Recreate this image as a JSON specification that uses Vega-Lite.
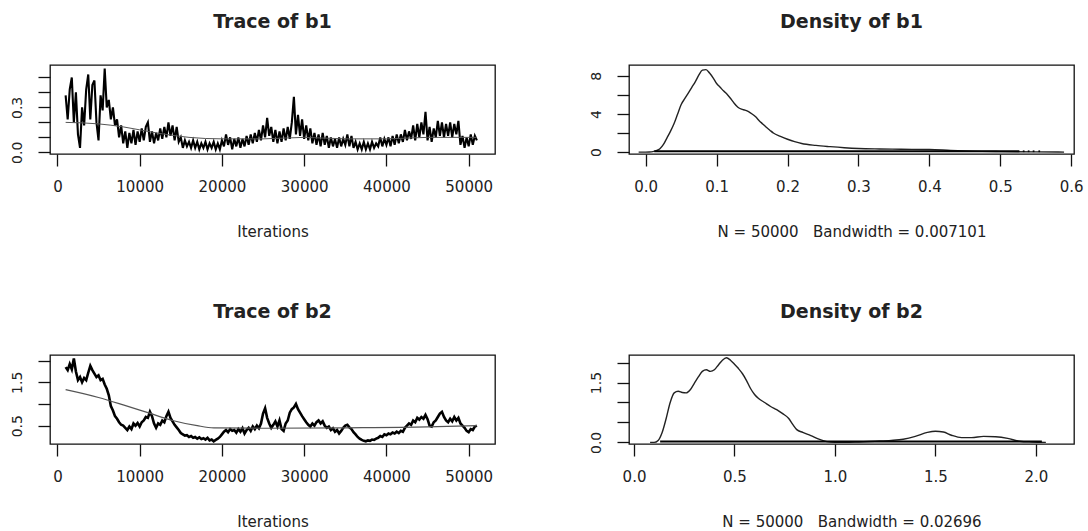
{
"$schema": "https://vega.github.io/schema/vega-lite/v6.json",
"background": "white",
"padding": {"left": 9, "top": 12, "right": 5, "bottom": 2},
"bounds": "flush",
"spacing": 290,
"config": {
 "view": {"stroke": "#111", "strokeWidth": 1.3},
 "axis": {"domain": false, "grid": false, "tickSize": 12, "tickColor": "#111", "tickWidth": 1.3, "labelFont": "DejaVu Sans", "labelColor": "#222", "titleFont": "DejaVu Sans", "titleColor": "#222", "titleFontWeight": "normal", "labelOverlap": false, "labelFlush": false},
 "axisX": {"labelFontSize": 15, "labelPadding": 13, "titleFontSize": 15, "titlePadding": 30},
 "axisY": {"labelFontSize": 14, "labelAngle": 270, "labelAlign": "center", "labelBaseline": "bottom", "labelPadding": 14},
 "title": {"font": "DejaVu Sans", "fontSize": 19, "fontWeight": "bold", "color": "#222", "anchor": "middle", "baseline": "bottom", "offset": 33}
},
"datasets": {
 "trace1": [
{"iter":1000,"value":0.38},{"iter":1250,"value":0.22},{"iter":1500,"value":0.42},{"iter":1750,"value":0.50},{"iter":2000,"value":0.20},{"iter":2250,"value":0.40},{"iter":2500,"value":0.12},{"iter":2750,"value":0.03},{"iter":3000,"value":0.30},{"iter":3250,"value":0.18},{"iter":3500,"value":0.42},{"iter":3750,"value":0.52},{"iter":4000,"value":0.22},{"iter":4250,"value":0.45},{"iter":4500,"value":0.48},{"iter":4750,"value":0.20},{"iter":5000,"value":0.08},{"iter":5250,"value":0.38},{"iter":5500,"value":0.28},{"iter":5750,"value":0.56},{"iter":6000,"value":0.30},{"iter":6250,"value":0.35},{"iter":6500,"value":0.22},{"iter":6750,"value":0.30},{"iter":7000,"value":0.18},{"iter":7250,"value":0.22},{"iter":7500,"value":0.10},{"iter":7750,"value":0.18},{"iter":8000,"value":0.06},{"iter":8250,"value":0.14},{"iter":8500,"value":0.03},{"iter":8750,"value":0.13},{"iter":9000,"value":0.06},{"iter":9250,"value":0.15},{"iter":9500,"value":0.05},{"iter":9750,"value":0.14},{"iter":10000,"value":0.07},{"iter":10250,"value":0.16},{"iter":10500,"value":0.08},{"iter":10750,"value":0.17},{"iter":11000,"value":0.20},{"iter":11250,"value":0.07},{"iter":11500,"value":0.14},{"iter":11750,"value":0.06},{"iter":12000,"value":0.13},{"iter":12250,"value":0.08},{"iter":12500,"value":0.16},{"iter":12750,"value":0.09},{"iter":13000,"value":0.17},{"iter":13250,"value":0.10},{"iter":13500,"value":0.20},{"iter":13750,"value":0.11},{"iter":14000,"value":0.18},{"iter":14250,"value":0.08},{"iter":14500,"value":0.17},{"iter":14750,"value":0.07},{"iter":15000,"value":0.10},{"iter":15250,"value":0.03},{"iter":15500,"value":0.08},{"iter":15750,"value":0.04},{"iter":16000,"value":0.07},{"iter":16250,"value":0.03},{"iter":16500,"value":0.08},{"iter":16750,"value":0.03},{"iter":17000,"value":0.07},{"iter":17250,"value":0.02},{"iter":17500,"value":0.06},{"iter":17750,"value":0.03},{"iter":18000,"value":0.07},{"iter":18250,"value":0.02},{"iter":18500,"value":0.06},{"iter":18750,"value":0.03},{"iter":19000,"value":0.07},{"iter":19250,"value":0.02},{"iter":19500,"value":0.06},{"iter":19750,"value":0.02},{"iter":20000,"value":0.08},{"iter":20250,"value":0.04},{"iter":20500,"value":0.12},{"iter":20750,"value":0.05},{"iter":21000,"value":0.10},{"iter":21250,"value":0.02},{"iter":21500,"value":0.09},{"iter":21750,"value":0.04},{"iter":22000,"value":0.10},{"iter":22250,"value":0.03},{"iter":22500,"value":0.09},{"iter":22750,"value":0.04},{"iter":23000,"value":0.11},{"iter":23250,"value":0.05},{"iter":23500,"value":0.12},{"iter":23750,"value":0.06},{"iter":24000,"value":0.13},{"iter":24250,"value":0.07},{"iter":24500,"value":0.15},{"iter":24750,"value":0.08},{"iter":25000,"value":0.18},{"iter":25250,"value":0.10},{"iter":25500,"value":0.23},{"iter":25750,"value":0.11},{"iter":26000,"value":0.17},{"iter":26250,"value":0.07},{"iter":26500,"value":0.15},{"iter":26750,"value":0.06},{"iter":27000,"value":0.14},{"iter":27250,"value":0.07},{"iter":27500,"value":0.16},{"iter":27750,"value":0.08},{"iter":28000,"value":0.17},{"iter":28250,"value":0.09},{"iter":28500,"value":0.20},{"iter":28750,"value":0.37},{"iter":29000,"value":0.12},{"iter":29250,"value":0.25},{"iter":29500,"value":0.11},{"iter":29750,"value":0.22},{"iter":30000,"value":0.09},{"iter":30250,"value":0.18},{"iter":30500,"value":0.08},{"iter":30750,"value":0.16},{"iter":31000,"value":0.06},{"iter":31250,"value":0.13},{"iter":31500,"value":0.05},{"iter":31750,"value":0.12},{"iter":32000,"value":0.04},{"iter":32250,"value":0.13},{"iter":32500,"value":0.05},{"iter":32750,"value":0.11},{"iter":33000,"value":0.03},{"iter":33250,"value":0.10},{"iter":33500,"value":0.04},{"iter":33750,"value":0.09},{"iter":34000,"value":0.03},{"iter":34250,"value":0.10},{"iter":34500,"value":0.04},{"iter":34750,"value":0.09},{"iter":35000,"value":0.05},{"iter":35250,"value":0.12},{"iter":35500,"value":0.04},{"iter":35750,"value":0.11},{"iter":36000,"value":0.03},{"iter":36250,"value":0.07},{"iter":36500,"value":0.02},{"iter":36750,"value":0.06},{"iter":37000,"value":0.02},{"iter":37250,"value":0.07},{"iter":37500,"value":0.02},{"iter":37750,"value":0.06},{"iter":38000,"value":0.02},{"iter":38250,"value":0.07},{"iter":38500,"value":0.03},{"iter":38750,"value":0.06},{"iter":39000,"value":0.04},{"iter":39250,"value":0.10},{"iter":39500,"value":0.04},{"iter":39750,"value":0.09},{"iter":40000,"value":0.05},{"iter":40250,"value":0.10},{"iter":40500,"value":0.04},{"iter":40750,"value":0.11},{"iter":41000,"value":0.05},{"iter":41250,"value":0.12},{"iter":41500,"value":0.06},{"iter":41750,"value":0.12},{"iter":42000,"value":0.07},{"iter":42250,"value":0.15},{"iter":42500,"value":0.08},{"iter":42750,"value":0.14},{"iter":43000,"value":0.09},{"iter":43250,"value":0.18},{"iter":43500,"value":0.08},{"iter":43750,"value":0.19},{"iter":44000,"value":0.10},{"iter":44250,"value":0.20},{"iter":44500,"value":0.12},{"iter":44750,"value":0.27},{"iter":45000,"value":0.08},{"iter":45250,"value":0.17},{"iter":45500,"value":0.07},{"iter":45750,"value":0.16},{"iter":46000,"value":0.10},{"iter":46250,"value":0.21},{"iter":46500,"value":0.11},{"iter":46750,"value":0.20},{"iter":47000,"value":0.10},{"iter":47250,"value":0.19},{"iter":47500,"value":0.11},{"iter":47750,"value":0.20},{"iter":48000,"value":0.10},{"iter":48250,"value":0.19},{"iter":48500,"value":0.12},{"iter":48750,"value":0.21},{"iter":49000,"value":0.05},{"iter":49250,"value":0.11},{"iter":49500,"value":0.03},{"iter":49750,"value":0.10},{"iter":50000,"value":0.04},{"iter":50250,"value":0.12},{"iter":50500,"value":0.05},{"iter":50750,"value":0.11},{"iter":51000,"value":0.08}
 ],
 "smooth1": [
{"iter":1000,"value":0.2},{"iter":5000,"value":0.19},{"iter":8000,"value":0.17},{"iter":12000,"value":0.13},{"iter":16000,"value":0.1},{"iter":20000,"value":0.09},{"iter":25000,"value":0.09},{"iter":30000,"value":0.1},{"iter":35000,"value":0.09},{"iter":40000,"value":0.09},{"iter":45000,"value":0.1},{"iter":51000,"value":0.1}
 ],
 "trace2": [
{"iter":1000,"value":1.85},{"iter":1250,"value":1.78},{"iter":1500,"value":1.92},{"iter":1750,"value":1.80},{"iter":2000,"value":2.05},{"iter":2250,"value":1.75},{"iter":2500,"value":1.55},{"iter":2750,"value":1.62},{"iter":3000,"value":1.50},{"iter":3250,"value":1.60},{"iter":3500,"value":1.55},{"iter":3750,"value":1.72},{"iter":4000,"value":1.88},{"iter":4250,"value":1.78},{"iter":4500,"value":1.70},{"iter":4750,"value":1.62},{"iter":5000,"value":1.66},{"iter":5250,"value":1.55},{"iter":5500,"value":1.58},{"iter":5750,"value":1.45},{"iter":6000,"value":1.35},{"iter":6250,"value":1.20},{"iter":6500,"value":0.95},{"iter":6750,"value":0.85},{"iter":7000,"value":0.72},{"iter":7250,"value":0.66},{"iter":7500,"value":0.58},{"iter":7750,"value":0.52},{"iter":8000,"value":0.50},{"iter":8250,"value":0.45},{"iter":8500,"value":0.40},{"iter":8750,"value":0.48},{"iter":9000,"value":0.42},{"iter":9250,"value":0.55},{"iter":9500,"value":0.50},{"iter":9750,"value":0.56},{"iter":10000,"value":0.48},{"iter":10250,"value":0.58},{"iter":10500,"value":0.62},{"iter":10750,"value":0.70},{"iter":11000,"value":0.68},{"iter":11250,"value":0.82},{"iter":11500,"value":0.72},{"iter":11750,"value":0.55},{"iter":12000,"value":0.45},{"iter":12250,"value":0.55},{"iter":12500,"value":0.52},{"iter":12750,"value":0.62},{"iter":13000,"value":0.58},{"iter":13250,"value":0.72},{"iter":13500,"value":0.82},{"iter":13750,"value":0.68},{"iter":14000,"value":0.60},{"iter":14250,"value":0.52},{"iter":14500,"value":0.46},{"iter":14750,"value":0.40},{"iter":15000,"value":0.33},{"iter":15250,"value":0.30},{"iter":15500,"value":0.27},{"iter":15750,"value":0.28},{"iter":16000,"value":0.24},{"iter":16250,"value":0.26},{"iter":16500,"value":0.22},{"iter":16750,"value":0.24},{"iter":17000,"value":0.20},{"iter":17250,"value":0.23},{"iter":17500,"value":0.19},{"iter":17750,"value":0.21},{"iter":18000,"value":0.18},{"iter":18250,"value":0.22},{"iter":18500,"value":0.16},{"iter":18750,"value":0.18},{"iter":19000,"value":0.14},{"iter":19250,"value":0.17},{"iter":19500,"value":0.20},{"iter":19750,"value":0.24},{"iter":20000,"value":0.30},{"iter":20250,"value":0.36},{"iter":20500,"value":0.40},{"iter":20750,"value":0.35},{"iter":21000,"value":0.42},{"iter":21250,"value":0.38},{"iter":21500,"value":0.40},{"iter":21750,"value":0.34},{"iter":22000,"value":0.42},{"iter":22250,"value":0.36},{"iter":22500,"value":0.44},{"iter":22750,"value":0.32},{"iter":23000,"value":0.40},{"iter":23250,"value":0.45},{"iter":23500,"value":0.38},{"iter":23750,"value":0.48},{"iter":24000,"value":0.42},{"iter":24250,"value":0.50},{"iter":24500,"value":0.44},{"iter":24750,"value":0.55},{"iter":25000,"value":0.78},{"iter":25250,"value":0.90},{"iter":25500,"value":0.68},{"iter":25750,"value":0.55},{"iter":26000,"value":0.45},{"iter":26250,"value":0.52},{"iter":26500,"value":0.60},{"iter":26750,"value":0.48},{"iter":27000,"value":0.62},{"iter":27250,"value":0.42},{"iter":27500,"value":0.38},{"iter":27750,"value":0.55},{"iter":28000,"value":0.62},{"iter":28250,"value":0.80},{"iter":28500,"value":0.88},{"iter":28750,"value":0.92},{"iter":29000,"value":1.00},{"iter":29250,"value":0.88},{"iter":29500,"value":0.80},{"iter":29750,"value":0.72},{"iter":30000,"value":0.65},{"iter":30250,"value":0.58},{"iter":30500,"value":0.52},{"iter":30750,"value":0.48},{"iter":31000,"value":0.55},{"iter":31250,"value":0.50},{"iter":31500,"value":0.58},{"iter":31750,"value":0.62},{"iter":32000,"value":0.55},{"iter":32250,"value":0.60},{"iter":32500,"value":0.50},{"iter":32750,"value":0.45},{"iter":33000,"value":0.48},{"iter":33250,"value":0.40},{"iter":33500,"value":0.44},{"iter":33750,"value":0.36},{"iter":34000,"value":0.40},{"iter":34250,"value":0.32},{"iter":34500,"value":0.38},{"iter":34750,"value":0.45},{"iter":35000,"value":0.50},{"iter":35250,"value":0.52},{"iter":35500,"value":0.46},{"iter":35750,"value":0.42},{"iter":36000,"value":0.35},{"iter":36250,"value":0.30},{"iter":36500,"value":0.24},{"iter":36750,"value":0.20},{"iter":37000,"value":0.17},{"iter":37250,"value":0.15},{"iter":37500,"value":0.14},{"iter":37750,"value":0.16},{"iter":38000,"value":0.15},{"iter":38250,"value":0.18},{"iter":38500,"value":0.17},{"iter":38750,"value":0.20},{"iter":39000,"value":0.22},{"iter":39250,"value":0.26},{"iter":39500,"value":0.24},{"iter":39750,"value":0.30},{"iter":40000,"value":0.28},{"iter":40250,"value":0.32},{"iter":40500,"value":0.30},{"iter":40750,"value":0.34},{"iter":41000,"value":0.32},{"iter":41250,"value":0.36},{"iter":41500,"value":0.33},{"iter":41750,"value":0.38},{"iter":42000,"value":0.36},{"iter":42250,"value":0.45},{"iter":42500,"value":0.50},{"iter":42750,"value":0.55},{"iter":43000,"value":0.52},{"iter":43250,"value":0.62},{"iter":43500,"value":0.58},{"iter":43750,"value":0.68},{"iter":44000,"value":0.64},{"iter":44250,"value":0.70},{"iter":44500,"value":0.66},{"iter":44750,"value":0.75},{"iter":45000,"value":0.65},{"iter":45250,"value":0.50},{"iter":45500,"value":0.48},{"iter":45750,"value":0.58},{"iter":46000,"value":0.62},{"iter":46250,"value":0.70},{"iter":46500,"value":0.78},{"iter":46750,"value":0.82},{"iter":47000,"value":0.70},{"iter":47250,"value":0.62},{"iter":47500,"value":0.58},{"iter":47750,"value":0.66},{"iter":48000,"value":0.60},{"iter":48250,"value":0.70},{"iter":48500,"value":0.62},{"iter":48750,"value":0.68},{"iter":49000,"value":0.55},{"iter":49250,"value":0.50},{"iter":49500,"value":0.45},{"iter":49750,"value":0.38},{"iter":50000,"value":0.35},{"iter":50250,"value":0.42},{"iter":50500,"value":0.40},{"iter":50750,"value":0.48},{"iter":51000,"value":0.50}
 ],
 "smooth2": [
{"iter":1000,"value":1.33},{"iter":5000,"value":1.15},{"iter":8000,"value":0.98},{"iter":11000,"value":0.8},{"iter":14000,"value":0.62},{"iter":17000,"value":0.5},{"iter":19000,"value":0.45},{"iter":25000,"value":0.44},{"iter":35000,"value":0.45},{"iter":45000,"value":0.47},{"iter":51000,"value":0.5}
 ],
 "dens1": [
{"x":-0.01,"density":0},{"x":0.0,"density":0.0},{"x":0.005,"density":0.01},{"x":0.01,"density":0.05},{"x":0.015,"density":0.15},{"x":0.02,"density":0.35},{"x":0.025,"density":0.8},{"x":0.03,"density":1.5},{"x":0.035,"density":2.2},{"x":0.04,"density":3.0},{"x":0.045,"density":4.0},{"x":0.05,"density":5.0},{"x":0.055,"density":5.6},{"x":0.06,"density":6.2},{"x":0.065,"density":6.8},{"x":0.07,"density":7.4},{"x":0.075,"density":8.1},{"x":0.08,"density":8.6},{"x":0.085,"density":8.65},{"x":0.09,"density":8.3},{"x":0.095,"density":7.8},{"x":0.1,"density":7.2},{"x":0.105,"density":6.8},{"x":0.11,"density":6.4},{"x":0.115,"density":6.05},{"x":0.12,"density":5.6},{"x":0.125,"density":5.1},{"x":0.13,"density":4.7},{"x":0.135,"density":4.5},{"x":0.14,"density":4.4},{"x":0.145,"density":4.25},{"x":0.15,"density":4.0},{"x":0.155,"density":3.7},{"x":0.16,"density":3.3},{"x":0.165,"density":2.95},{"x":0.17,"density":2.6},{"x":0.175,"density":2.3},{"x":0.18,"density":2.0},{"x":0.19,"density":1.65},{"x":0.2,"density":1.35},{"x":0.21,"density":1.1},{"x":0.22,"density":0.9},{"x":0.24,"density":0.7},{"x":0.26,"density":0.57},{"x":0.28,"density":0.46},{"x":0.3,"density":0.38},{"x":0.33,"density":0.33},{"x":0.36,"density":0.3},{"x":0.4,"density":0.27},{"x":0.43,"density":0.18},{"x":0.46,"density":0.1},{"x":0.5,"density":0.05},{"x":0.55,"density":0.02},{"x":0.59,"density":0.0}
 ],
 "rug1": [{"x":0.012,"density":0.087},{"x":0.527,"density":0.087}],
 "rug1dots": [{"x":0.533,"density":0.087},{"x":0.54,"density":0.087},{"x":0.547,"density":0.087},{"x":0.555,"density":0.087}],
 "dens2": [
{"x":0.08,"density":0},{"x":0.1,"density":0.0},{"x":0.12,"density":0.05},{"x":0.14,"density":0.25},{"x":0.16,"density":0.6},{"x":0.18,"density":1.0},{"x":0.2,"density":1.24},{"x":0.22,"density":1.28},{"x":0.24,"density":1.25},{"x":0.26,"density":1.24},{"x":0.28,"density":1.32},{"x":0.3,"density":1.48},{"x":0.32,"density":1.64},{"x":0.34,"density":1.78},{"x":0.36,"density":1.82},{"x":0.38,"density":1.78},{"x":0.4,"density":1.82},{"x":0.42,"density":1.94},{"x":0.44,"density":2.06},{"x":0.46,"density":2.12},{"x":0.48,"density":2.06},{"x":0.5,"density":1.96},{"x":0.52,"density":1.85},{"x":0.54,"density":1.72},{"x":0.56,"density":1.55},{"x":0.58,"density":1.35},{"x":0.6,"density":1.2},{"x":0.62,"density":1.1},{"x":0.65,"density":1.0},{"x":0.68,"density":0.9},{"x":0.71,"density":0.82},{"x":0.74,"density":0.72},{"x":0.77,"density":0.6},{"x":0.79,"density":0.45},{"x":0.81,"density":0.32},{"x":0.84,"density":0.25},{"x":0.88,"density":0.17},{"x":0.92,"density":0.08},{"x":0.96,"density":0.02},{"x":1.0,"density":0.0},{"x":1.1,"density":0.01},{"x":1.2,"density":0.03},{"x":1.28,"density":0.05},{"x":1.34,"density":0.08},{"x":1.4,"density":0.15},{"x":1.46,"density":0.25},{"x":1.5,"density":0.28},{"x":1.54,"density":0.26},{"x":1.58,"density":0.18},{"x":1.63,"density":0.12},{"x":1.68,"density":0.12},{"x":1.74,"density":0.15},{"x":1.8,"density":0.14},{"x":1.86,"density":0.1},{"x":1.92,"density":0.03},{"x":1.98,"density":0.01},{"x":2.05,"density":0.0}
 ],
 "rug2": [{"x":0.13,"density":0.021},{"x":2.03,"density":0.021}]
},
"vconcat": [
 {"bounds": "flush", "spacing": 134, "hconcat": [
  {"width": 445, "height": 89, "title": "Trace of b1",
   "layer": [
    {"data": {"name": "trace1"}, "mark": {"type": "line", "color": "#000", "strokeWidth": 2.1, "clip": true},
     "encoding": {
      "x": {"field": "iter", "type": "quantitative", "scale": {"domain": [-900, 53200], "nice": false, "zero": false},
            "axis": {"values": [0,10000,20000,30000,40000,50000], "tickCount": 20, "format": "d", "title": "Iterations", "labelOverlap": false}},
      "y": {"field": "value", "type": "quantitative", "scale": {"domain": [-0.011, 0.583], "nice": false, "zero": false},
            "axis": {"values": [0,0.1,0.2,0.3,0.4,0.5], "tickCount": 20, "title": null, "labelOverlap": false, "labelExpr": "abs(datum.value) < 0.001 ? '0.0' : (abs(datum.value - 0.3) < 0.001 ? '0.3' : '')"}}}},
    {"data": {"name": "smooth1"}, "mark": {"type": "line", "color": "#555", "strokeWidth": 1, "interpolate": "monotone", "clip": true},
     "encoding": {"x": {"field": "iter", "type": "quantitative"}, "y": {"field": "value", "type": "quantitative"}}}
   ]},
  {"width": 445, "height": 89, "title": "Density of b1",
   "layer": [
    {"data": {"name": "dens1"}, "mark": {"type": "line", "color": "#222", "strokeWidth": 1.4, "interpolate": "monotone", "clip": true},
     "encoding": {
      "x": {"field": "x", "type": "quantitative", "scale": {"domain": [-0.0236, 0.604], "nice": false, "zero": false},
            "axis": {"values": [0,0.1,0.2,0.3,0.4,0.5,0.6], "tickCount": 20, "format": ".1f", "labelOverlap": false, "title": "N = 50000\u00a0\u00a0\u00a0Bandwidth = 0.007101"}},
      "y": {"field": "density", "type": "quantitative", "scale": {"domain": [-0.2, 9.14], "nice": false, "zero": false},
            "axis": {"values": [0,2,4,6,8], "tickCount": 20, "title": null, "labelOverlap": false, "labelExpr": "datum.value == 0 ? '0' : (datum.value == 4 ? '4' : (datum.value == 8 ? '8' : ''))"}}}},
    {"mark": {"type": "rule", "color": "#bbb", "strokeWidth": 1}, "encoding": {"y": {"datum": 0}}},
    {"data": {"name": "rug1"}, "mark": {"type": "line", "color": "#000", "strokeWidth": 2, "clip": true},
     "encoding": {"x": {"field": "x", "type": "quantitative"}, "y": {"field": "density", "type": "quantitative"}}},
    {"data": {"name": "rug1dots"}, "mark": {"type": "square", "color": "#000", "size": 3, "opacity": 1},
     "encoding": {"x": {"field": "x", "type": "quantitative"}, "y": {"field": "density", "type": "quantitative"}}}
   ]}
 ]},
 {"bounds": "flush", "spacing": 134, "hconcat": [
  {"width": 445, "height": 89, "title": "Trace of b2",
   "layer": [
    {"data": {"name": "trace2"}, "mark": {"type": "line", "color": "#000", "strokeWidth": 2.6, "clip": true},
     "encoding": {
      "x": {"field": "iter", "type": "quantitative", "scale": {"domain": [-900, 53200], "nice": false, "zero": false},
            "axis": {"values": [0,10000,20000,30000,40000,50000], "tickCount": 20, "format": "d", "title": "Iterations", "labelOverlap": false}},
      "y": {"field": "value", "type": "quantitative", "scale": {"domain": [0.077, 2.13], "nice": false, "zero": false},
            "axis": {"values": [0.5,1,1.5,2], "tickCount": 20, "title": null, "labelOverlap": false, "labelExpr": "abs(datum.value - 0.5) < 0.001 ? '0.5' : (abs(datum.value - 1.5) < 0.001 ? '1.5' : '')"}}}},
    {"data": {"name": "smooth2"}, "mark": {"type": "line", "color": "#555", "strokeWidth": 1.2, "interpolate": "monotone", "clip": true},
     "encoding": {"x": {"field": "iter", "type": "quantitative"}, "y": {"field": "value", "type": "quantitative"}}}
   ]},
  {"width": 445, "height": 89, "title": "Density of b2",
   "layer": [
    {"data": {"name": "dens2"}, "mark": {"type": "line", "color": "#222", "strokeWidth": 1.4, "interpolate": "monotone", "clip": true},
     "encoding": {
      "x": {"field": "x", "type": "quantitative", "scale": {"domain": [-0.025, 2.19], "nice": false, "zero": false},
            "axis": {"values": [0,0.5,1,1.5,2], "tickCount": 20, "format": ".1f", "labelOverlap": false, "title": "N = 50000\u00a0\u00a0\u00a0Bandwidth = 0.02696"}},
      "y": {"field": "density", "type": "quantitative", "scale": {"domain": [-0.04, 2.19], "nice": false, "zero": false},
            "axis": {"values": [0,0.5,1,1.5,2], "tickCount": 20, "title": null, "labelOverlap": false, "labelExpr": "abs(datum.value) < 0.001 ? '0.0' : (abs(datum.value - 1.5) < 0.001 ? '1.5' : '')"}}}},
    {"mark": {"type": "rule", "color": "#bbb", "strokeWidth": 1}, "encoding": {"y": {"datum": 0}}},
    {"data": {"name": "rug2"}, "mark": {"type": "line", "color": "#000", "strokeWidth": 2, "clip": true},
     "encoding": {"x": {"field": "x", "type": "quantitative"}, "y": {"field": "density", "type": "quantitative"}}}
   ]}
 ]}
]
}
